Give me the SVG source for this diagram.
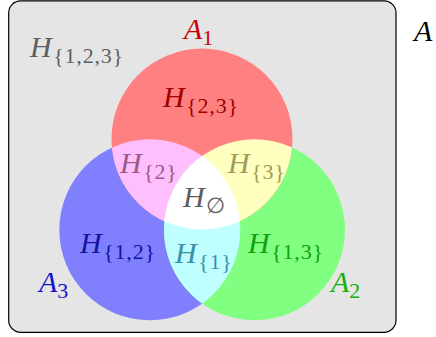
<svg xmlns="http://www.w3.org/2000/svg" width="436" height="337" viewBox="0 0 436 337">
<style>
text{font-family:"Liberation Serif","DejaVu Serif",serif;font-size:30px}
.i{font-style:italic}
.s{font-size:22px;letter-spacing:0.8px}
</style>
<defs>
<clipPath id="cR"><circle cx="202" cy="139" r="90.5"/></clipPath>
<clipPath id="cB"><circle cx="149.8" cy="229.8" r="90.5"/></clipPath>
<clipPath id="cG"><circle cx="254.5" cy="229.8" r="90.5"/></clipPath>
</defs>
<g id="universe">
<rect x="8.7" y="0.8" width="387.3" height="331.5" rx="12" fill="#e5e5e5" stroke="#000" stroke-width="1.2"/>
</g>
<g id="sets">
<circle id="A3circle" cx="149.8" cy="229.8" r="90.5" fill="#8080ff"/>
<circle id="A2circle" cx="254.5" cy="229.8" r="90.5" fill="#80ff80"/>
<circle id="A1circle" cx="202" cy="139" r="90.5" fill="#ff8080"/>
<g clip-path="url(#cB)"><circle cx="202" cy="139" r="90.5" fill="#ffbfff"/></g>
<g clip-path="url(#cG)"><circle cx="202" cy="139" r="90.5" fill="#ffffbf"/></g>
<g clip-path="url(#cG)"><circle cx="149.8" cy="229.8" r="90.5" fill="#bfffff"/></g>
<g clip-path="url(#cG)"><g clip-path="url(#cB)"><circle cx="202" cy="139" r="90.5" fill="#ffffff"/></g></g>
</g>
<g id="labels">
<text x="30" y="57" fill="#5e5e5e"><tspan class="i">H</tspan><tspan class="s" dx="1.5" dy="6">{1,2,3}</tspan></text>
<text x="184" y="39" fill="#cc0000"><tspan class="i">A</tspan><tspan class="s" dy="6">1</tspan></text>
<text x="414" y="41" fill="#000" class="i">A</text>
<text x="163" y="107" fill="#a00000"><tspan class="i">H</tspan><tspan class="s" dx="1.5" dy="6">{2,3}</tspan></text>
<text x="120" y="173" fill="#9a5a8a"><tspan class="i">H</tspan><tspan class="s" dx="1.5" dy="6">{2}</tspan></text>
<text x="228" y="173" fill="#a09a5a"><tspan class="i">H</tspan><tspan class="s" dx="1.5" dy="6">{3}</tspan></text>
<text x="183" y="207" fill="#5e5e5e"><tspan class="i">H</tspan><tspan class="s" dx="1" dy="6">∅</tspan></text>
<text x="80" y="253" fill="#1414a0"><tspan class="i">H</tspan><tspan class="s" dx="1.5" dy="6">{1,2}</tspan></text>
<text x="175" y="263" fill="#3a90a8"><tspan class="i">H</tspan><tspan class="s" dx="1.5" dy="6">{1}</tspan></text>
<text x="248" y="253" fill="#10a010"><tspan class="i">H</tspan><tspan class="s" dx="1.5" dy="6">{1,3}</tspan></text>
<text x="39" y="292" fill="#1515cc"><tspan class="i">A</tspan><tspan class="s" dy="6">3</tspan></text>
<text x="331" y="292" fill="#10b010"><tspan class="i">A</tspan><tspan class="s" dy="6">2</tspan></text>
</g>
</svg>
